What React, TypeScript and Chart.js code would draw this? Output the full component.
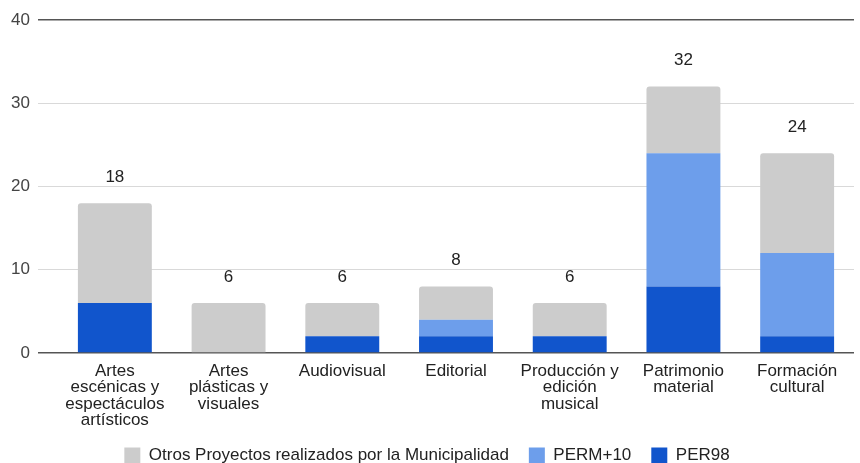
import React, { useEffect, useRef } from "react";
import { Chart, registerables } from "chart.js";

Chart.register(...registerables);

const categories: string[][] = [
  ["Artes", "escénicas y", "espectáculos", "artísticos"],
  ["Artes", "plásticas y", "visuales"],
  ["Audiovisual"],
  ["Editorial"],
  ["Producción y", "edición", "musical"],
  ["Patrimonio", "material"],
  ["Formación", "cultural"],
];

const per98: number[] = [6, 0, 2, 2, 2, 8, 2];
const perm10: number[] = [0, 0, 0, 2, 0, 16, 10];
const otros: number[] = [12, 6, 4, 4, 4, 8, 12];

const yTicks: number[] = [0, 10, 20, 30, 40];

const FONT = "'Liberation Sans', Arial, sans-serif";

const totalsPlugin = {
  id: "totals",
  afterDatasetsDraw(chart: any) {
    const ctx = chart.ctx;
    const n = chart.data.labels.length;
    const lastMeta = chart.getDatasetMeta(chart.data.datasets.length - 1);
    ctx.save();
    ctx.font = `17px ${FONT}`;
    ctx.fillStyle = "#222";
    ctx.textAlign = "center";
    ctx.textBaseline = "middle";
    for (let i = 0; i < n; i++) {
      let total = 0;
      chart.data.datasets.forEach((d: any) => (total += d.data[i] || 0));
      const el = lastMeta.data[i];
      const y = chart.scales.y.getPixelForValue(total);
      ctx.fillText(String(total), el.x, y - 26);
    }
    ctx.restore();
  },
};

export default function App() {
  const ref = useRef<HTMLCanvasElement | null>(null);
  useEffect(() => {
    document.body.style.margin = "0";
    const c = ref.current!;
    const chart = new Chart(c, {
      type: "bar",
      data: {
        labels: categories as any,
        datasets: [
          {
            label: "PER98",
            data: per98,
            backgroundColor: "#1155cc",
            borderRadius: 0,
          },
          {
            label: "PERM+10",
            data: perm10,
            backgroundColor: "#6d9eeb",
          },
          {
            label: "Otros Proyectos realizados por la Municipalidad",
            data: otros,
            backgroundColor: "#cccccc",
            borderRadius: { topLeft: 3, topRight: 3, bottomLeft: 0, bottomRight: 0 },
            borderSkipped: false,
          },
        ],
      },
      options: {
        animation: false,
        responsive: false,
        maintainAspectRatio: false,
        layout: { padding: { top: 20, right: 6, left: 0, bottom: -11 } },
        datasets: { bar: { barPercentage: 0.65, categoryPercentage: 1 } },
        scales: {
          x: {
            stacked: true,
            grid: { display: false, drawTicks: false },
            border: { display: false },
            afterFit: (s: any) => {
              s.height = 74;
            },
            ticks: {
              color: "#222",
              font: { family: FONT, size: 17, lineHeight: 0.97 },
              maxRotation: 0,
              autoSkip: false,
              padding: 10,
            },
          },
          y: {
            stacked: true,
            min: 0,
            max: 40,
            afterBuildTicks: (s: any) => {
              s.ticks = yTicks.map((v) => ({ value: v }));
            },
            afterFit: (s: any) => {
              s.width = 58;
            },
            border: { display: false },
            grid: {
              color: (ctx: any) =>
                ctx.tick && (ctx.tick.value === 0 || ctx.tick.value === 40) ? "#555" : "#d9d9d9",
              lineWidth: (ctx: any) =>
                ctx.tick && (ctx.tick.value === 0 || ctx.tick.value === 40) ? 1.5 : 1,
              tickLength: 20,
              drawTicks: true,
            },
            ticks: {
              color: "#444",
              font: { family: FONT, size: 17 },
              padding: 8,
            },
          },
        },
        plugins: {
          legend: {
            position: "bottom",
            reverse: true,
            labels: {
              color: "#222",
              font: { family: FONT, size: 17 },
              boxWidth: 16,
              boxHeight: 16,
              padding: 20,
            },
          },
          tooltip: { enabled: false },
        },
      },
      plugins: [totalsPlugin],
    });
    return () => chart.destroy();
  }, []);
  return (
    <div style={{ width: 860, height: 463 }}>
      <canvas ref={ref} width={860} height={463} style={{ display: "block" }} />
    </div>
  );
}
